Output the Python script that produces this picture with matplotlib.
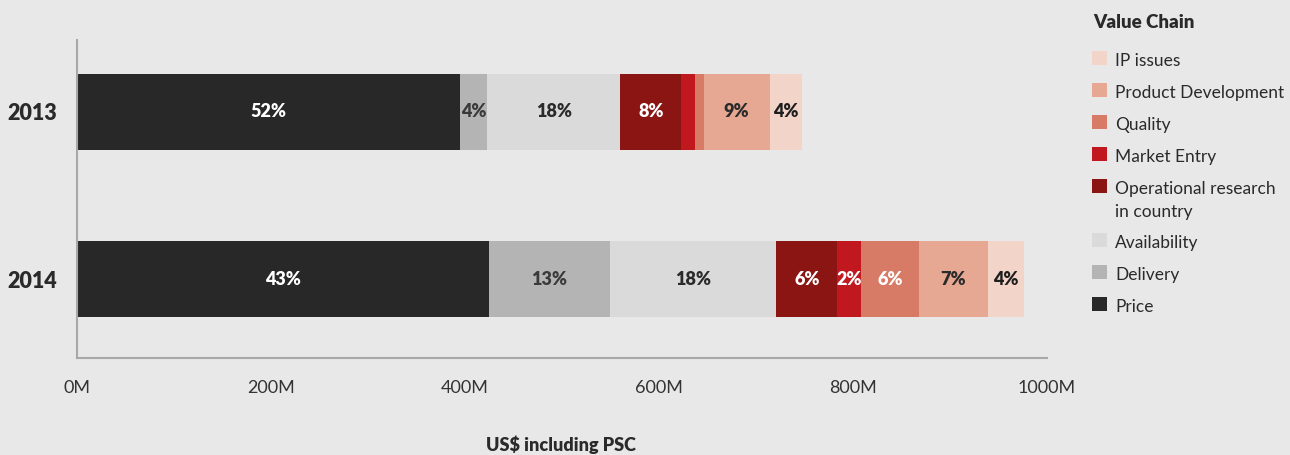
import matplotlib
matplotlib.use("Agg")
import matplotlib.pyplot as plt
from matplotlib.patches import Rectangle

# Spending by value-chain component, US$ millions including PSC
years = ["2013", "2014"]
components = ["Price", "Delivery", "Availability",
              "Operational research\nin country", "Market Entry",
              "Quality", "Product Development", "IP issues"]
price = [395, 425]
delivery = [28, 124]
availability = [137, 172]
operational_research = [63, 63]
market_entry = [14, 24]
quality = [9, 60]
product_development = [68, 71]
ip_issues = [33, 37]

# Share labels printed on each segment (None = segment too narrow)
share_labels = {
    "Price": ["52%", "43%"],
    "Delivery": ["4%", "13%"],
    "Availability": ["18%", "18%"],
    "Operational research\nin country": ["8%", "6%"],
    "Market Entry": [None, "2%"],
    "Quality": [None, "6%"],
    "Product Development": ["9%", "7%"],
    "IP issues": ["4%", "4%"],
}

tick_values = [0, 200, 400, 600, 800, 1000]
tick_labels = ["0M", "200M", "400M", "600M", "800M", "1000M"]

series = [price, delivery, availability, operational_research,
          market_entry, quality, product_development, ip_issues]
colors = ["#282828", "#b4b4b4", "#dadada", "#8b1513",
          "#c1181f", "#d87b66", "#e6a893", "#f3d4c8"]
label_colors = ["white", "#3a3a3a", "#2a2a2a", "white",
                "white", "white", "#2a2a2a", "#1e1e1e"]

BG = "#e8e8e8"
FONT = "Lato"
TEXT = "#2a2a2a"

fig = plt.figure(figsize=(12.9, 4.55), dpi=100, facecolor=BG)
ax = fig.add_axes([77 / 1290, 1 - 358 / 455, 970 / 1290, 318 / 455])
ax.set_facecolor(BG)

ypos = list(range(len(years)))
left = [0.0] * len(years)
for vals, col, name, lc in zip(series, colors, components, label_colors):
    bars = ax.barh(ypos, vals, left=left, height=0.46, color=col,
                   edgecolor="none")
    for i, (b, txt) in enumerate(zip(bars, share_labels[name])):
        if txt:
            ax.text(b.get_x() + b.get_width() / 2, b.get_y() + b.get_height() / 2,
                    txt, ha="center", va="center", color=lc,
                    fontsize=13, fontweight="heavy", family=FONT)
    left = [l + v for l, v in zip(left, vals)]

ax.set_xlim(0, 1000)
ax.set_ylim(1.473, -0.431)
ax.set_xticks(tick_values)
ax.set_xticklabels(tick_labels, fontsize=13, family=FONT,
                   fontweight="normal", color="#333333")
ax.set_yticks(ypos)
ax.set_yticklabels(years, fontsize=15.5, family=FONT, fontweight="heavy",
                   color=TEXT)
ax.tick_params(axis="both", length=0)
ax.tick_params(axis="x", pad=16)
ax.tick_params(axis="y", pad=14)
for s in ["top", "right"]:
    ax.spines[s].set_visible(False)
for s in ["left", "bottom"]:
    ax.spines[s].set_color("#a8a8a8")
    ax.spines[s].set_linewidth(1.5)

fig.text(561 / 1290, 1 - 445 / 455, "US$ including PSC", ha="center",
         va="center", fontsize=13, fontweight="heavy", family=FONT,
         color=TEXT)

# Legend, listed from top to bottom
fig.text(1093 / 1290, 1 - 23 / 455, "Value Chain", ha="left", va="center",
         fontsize=13.5, fontweight="heavy", family=FONT, color=TEXT)
legend_rows = [58, 90, 122, 154, 186, 240, 272, 304]
order = list(range(len(components)))[::-1]
for row_y, idx in zip(legend_rows, order):
    fig.patches.append(Rectangle((1092 / 1290, 1 - (row_y + 7) / 455),
                                 15 / 1290, 14 / 455, transform=fig.transFigure,
                                 facecolor=colors[idx], edgecolor="none"))
    fig.text(1115 / 1290, 1 - (row_y - 5) / 455, components[idx], ha="left",
             va="top", fontsize=12.5, fontweight="normal", family=FONT,
             color=TEXT, linespacing=1.55)

fig.savefig("out.png", dpi=100, facecolor=BG)
